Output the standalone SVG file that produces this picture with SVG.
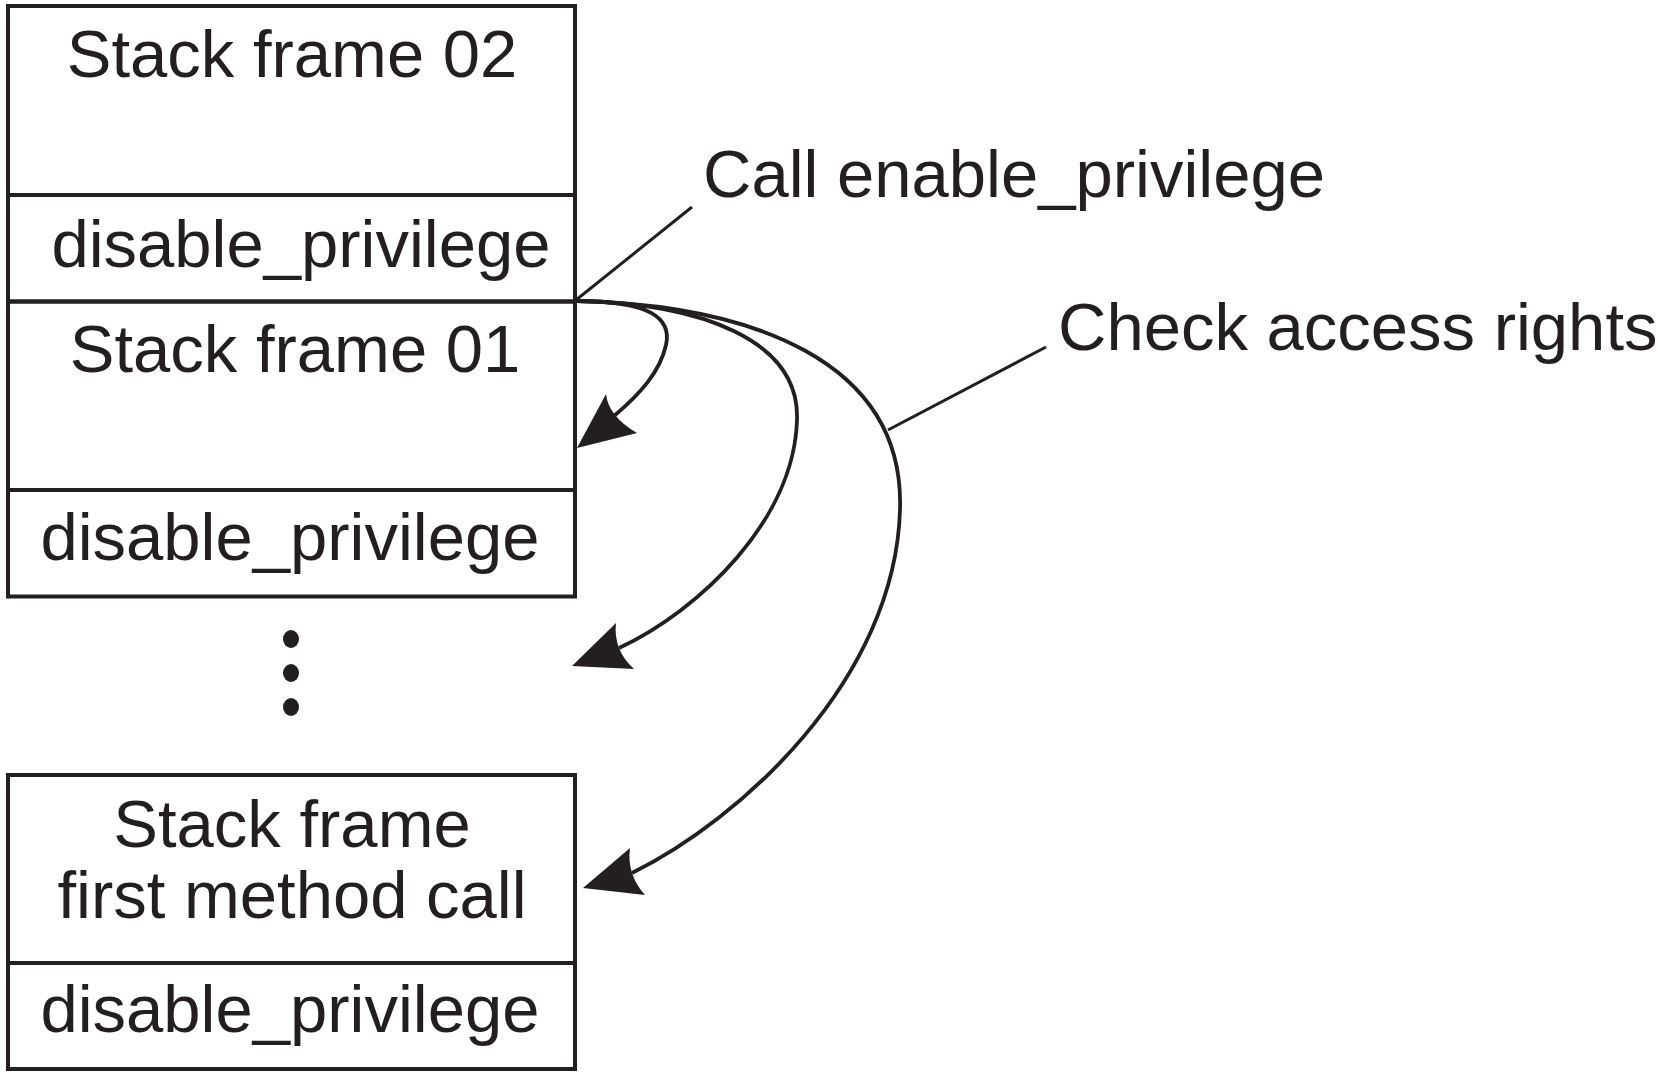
<svg xmlns="http://www.w3.org/2000/svg" width="1658" height="1075" viewBox="0 0 1658 1075">
  <style>
    .box { fill: none; stroke: #231f20; stroke-width: 4; }
    .lbl { font-family: "Liberation Sans", Arial, sans-serif; font-size: 67px; fill: #231f20; }
    .mid { text-anchor: middle; }
    .curve { fill: none; stroke: #231f20; stroke-width: 3.8; }
    .leader { fill: none; stroke: #231f20; stroke-width: 3; }
    .head { fill: #231f20; stroke: none; }
    .dot { fill: #231f20; }
  </style>
  <rect width="1658" height="1075" fill="#ffffff"/>

  <g id="frame02">
    <rect class="box" x="8" y="6" width="567" height="189"/>
    <text class="lbl mid" x="292" y="77">Stack frame 02</text>
  </g>
  <g id="disable02">
    <rect class="box" x="8" y="195" width="567" height="106.5"/>
    <text class="lbl mid" x="301" y="266.5">disable_privilege</text>
  </g>
  <g id="frame01">
    <rect class="box" x="8" y="301.5" width="567" height="188.5"/>
    <text class="lbl mid" x="295" y="371.5">Stack frame 01</text>
  </g>
  <g id="disable01">
    <rect class="box" x="8" y="490" width="567" height="106.5"/>
    <text class="lbl mid" x="290" y="560">disable_privilege</text>
  </g>
  <g id="ellipsis">
    <ellipse class="dot" cx="291" cy="639" rx="8" ry="9"/>
    <ellipse class="dot" cx="291" cy="673" rx="8" ry="9"/>
    <ellipse class="dot" cx="291" cy="707" rx="8" ry="9"/>
  </g>
  <g id="frameFirst">
    <rect class="box" x="8" y="775" width="567" height="188"/>
    <text class="lbl mid" x="292" y="847">Stack frame</text>
    <text class="lbl mid" x="292" y="918">first method call</text>
  </g>
  <g id="disableFirst">
    <rect class="box" x="8" y="963" width="567" height="106"/>
    <text class="lbl mid" x="290" y="1032">disable_privilege</text>
  </g>
  <g id="labelCall">
    <text class="lbl" x="703" y="197">Call enable_privilege</text>
  </g>
  <g id="labelCheck">
    <text class="lbl" x="1058" y="350">Check access rights</text>
  </g>

  <g id="connectors">
    <line class="leader" x1="576" y1="300" x2="692" y2="207"/>
    <line class="leader" x1="888" y1="430" x2="1046" y2="347"/>

    <path class="curve" d="M577,301 C650,301 672,318 666,345 C660,372 640,394 614,416"/>
    <path class="head" d="M577,448 L606,394 Q608.5,416.5 637,433 Z"/>

    <path class="curve" d="M577,301 C700,303 800,340 797,420 C794,520 700,610 619,648"/>
    <path class="head" d="M572,666 L616,623 Q613,650 634,669 Z"/>

    <path class="curve" d="M577,301 C750,305 905,360 900,510 C895,680 740,820 632,873"/>
    <path class="head" d="M583,888 L630,848 Q626.5,874.5 645,895 Z"/>
  </g>
</svg>
